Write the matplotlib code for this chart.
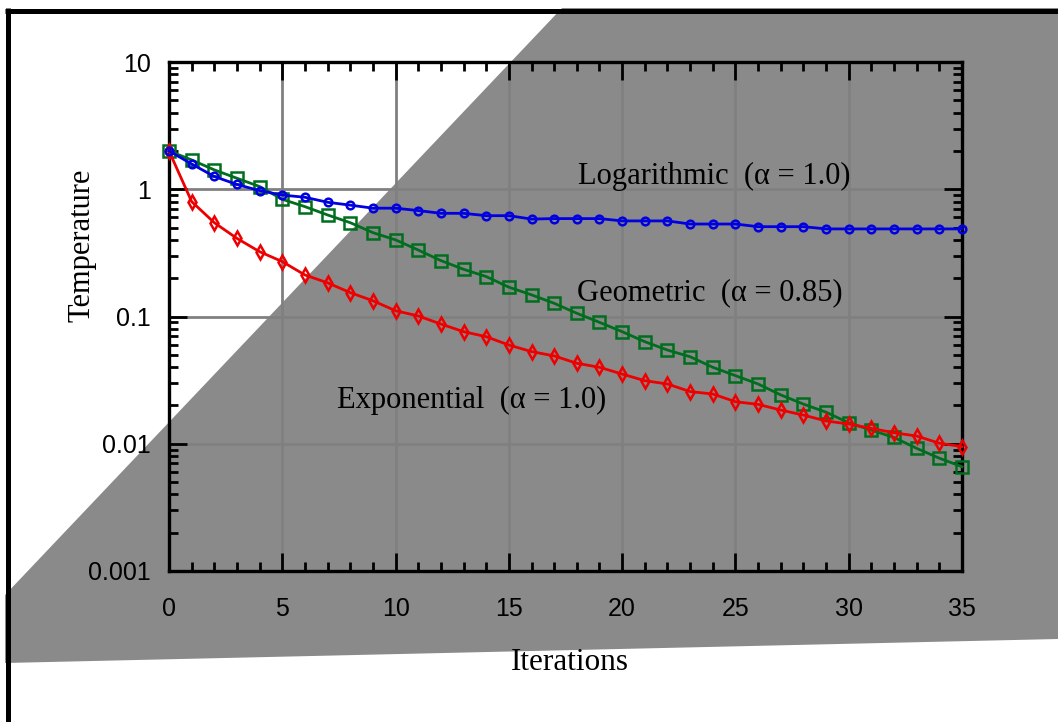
import numpy as np
import matplotlib.pyplot as plt
from matplotlib.lines import Line2D
from matplotlib.patches import Polygon
from matplotlib.ticker import LogLocator, MultipleLocator, FixedLocator

#----- DATA ---------------------------------------------------------
iterations = np.arange(0, 36)

logarithmic = [2.0, 1.58, 1.26, 1.09, 0.975, 0.90, 0.865, 0.79, 0.75, 0.71,
               0.71, 0.68, 0.647, 0.647, 0.62, 0.62, 0.583, 0.588, 0.588, 0.588,
               0.564, 0.564, 0.564, 0.533, 0.533, 0.533, 0.508, 0.508, 0.508, 0.488,
               0.488, 0.488, 0.488, 0.488, 0.488, 0.488]

geometric = [2.0, 1.70, 1.42, 1.22, 1.05, 0.834, 0.73, 0.628, 0.546, 0.456,
             0.40, 0.333, 0.275, 0.235, 0.206, 0.170, 0.148, 0.127, 0.106, 0.090,
             0.076, 0.0634, 0.0545, 0.0483, 0.0399, 0.0343, 0.0295, 0.0242, 0.0205, 0.0177,
             0.0146, 0.0128, 0.0112, 0.0092, 0.0077, 0.0066]

exponential = [2.0, 0.80, 0.546, 0.411, 0.323, 0.27, 0.212, 0.184, 0.154, 0.133,
               0.111, 0.101, 0.0873, 0.076, 0.0694, 0.0597, 0.053, 0.049, 0.0429, 0.0399,
               0.0353, 0.0313, 0.0295, 0.0257, 0.0246, 0.0214, 0.0204, 0.0184, 0.0168, 0.0151,
               0.0143, 0.0132, 0.0122, 0.0115, 0.0101, 0.0095]

labels = ["Logarithmic  (\u03b1 = 1.0)", "Geometric  (\u03b1 = 0.85)", "Exponential  (\u03b1 = 1.0)"]
label_pos = [(18.05, 1.27), (18.0, 0.153), (7.4, 0.022)]

#----- FIGURE -------------------------------------------------------
W, H = 1058, 722
fig = plt.figure(figsize=(W / 100, H / 100), dpi=100)

def fx(px):
    return px / W

def fy(py):
    return 1 - py / H

# gray background band
band = Polygon([(fx(562), fy(8)), (fx(1058), fy(8)), (fx(1058), fy(639)),
                (fx(5), fy(663)), (fx(5), fy(595))],
               closed=True, transform=fig.transFigure, facecolor='#8a8a8a',
               edgecolor='none', zorder=-5)
fig.add_artist(band)

# outer frame (top and left edges)
fig.add_artist(Line2D([fx(5), fx(1058)], [fy(10.5), fy(10.5)], transform=fig.transFigure,
                      color='black', lw=3.6, zorder=10, solid_capstyle='butt'))
fig.add_artist(Line2D([fx(7.5), fx(7.5)], [fy(8), fy(722)], transform=fig.transFigure,
                      color='black', lw=3.6, zorder=10, solid_capstyle='butt'))

ax = fig.add_axes([fx(169), fy(571), fx(962) - fx(169), fy(62) - fy(571)])
ax.set_facecolor('none')
ax.set_yscale('log')
ax.set_xlim(0, 35)
ax.set_ylim(0.001, 10)

ax.plot(iterations, logarithmic, color='#0000e0', lw=2, marker='o', ms=5.5,
        mfc='none', mew=1.8, clip_on=False, zorder=4)
ax.plot(iterations, geometric, color='#006e1e', lw=2, marker='s', ms=8,
        mfc='none', mew=1.8, clip_on=False, zorder=3)
ax.plot(iterations, exponential, color='#ee0000', lw=2, marker='d', ms=7,
        mfc='none', mew=1.8, clip_on=False, zorder=3)

serif = ['Liberation Serif', 'DejaVu Serif']
for txt, (x, y) in zip(labels, label_pos):
    ax.text(x, y, txt, family=serif, fontsize=22, va='center', ha='left')

# ticks and grid
ax.xaxis.set_major_locator(MultipleLocator(5))
ax.xaxis.set_minor_locator(MultipleLocator(1))
ax.yaxis.set_major_locator(FixedLocator([0.001, 0.01, 0.1, 1, 10]))
ax.yaxis.set_minor_locator(LogLocator(base=10, subs=np.arange(2, 10), numticks=20))
ax.set_yticklabels(['0.001', '0.01', '0.1', '1', '10'])
ax.yaxis.set_minor_formatter(plt.NullFormatter())

ax.tick_params(which='both', direction='in', top=True, right=True, width=2, color='black')
ax.tick_params(which='major', length=13)
ax.tick_params(which='minor', length=6.5)
ax.tick_params(axis='x', which='major', pad=19)
ax.tick_params(axis='y', which='major', pad=13)
for lab in ax.get_xticklabels() + ax.get_yticklabels():
    lab.set_family(['Liberation Sans', 'DejaVu Sans'])
    lab.set_fontsize(18)

ax.grid(True, which='major', color='#808080', lw=2, zorder=0)
for sp in ax.spines.values():
    sp.set_linewidth(2.4)

fig.text(fx(82), fy(245), 'Temperature', family=serif, fontsize=22, rotation=90,
         ha='center', va='center')
fig.text(fx(570), fy(662), 'Iterations', family=serif, fontsize=22.5,
         ha='center', va='center')

fig.savefig('out.png', dpi=100)
